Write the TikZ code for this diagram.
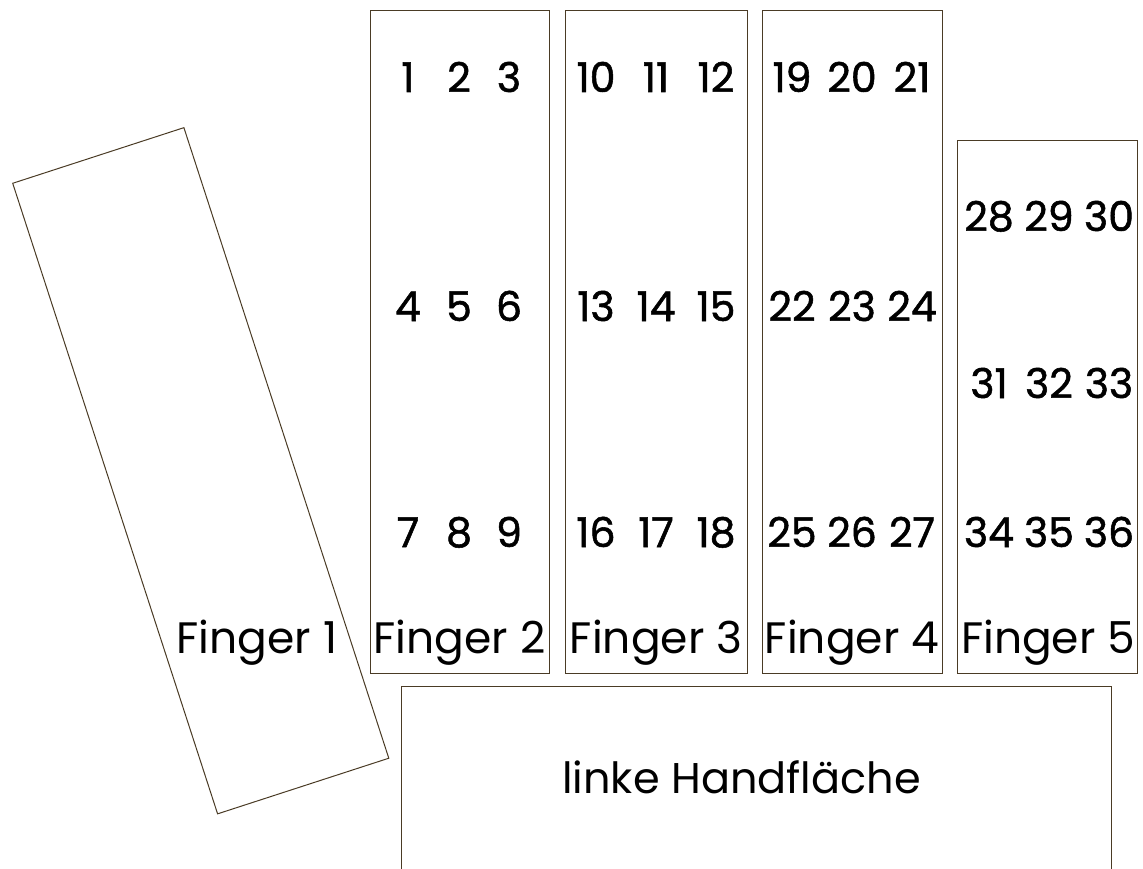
\documentclass[tikz,border=0pt]{standalone}
\usepackage{fontspec}
\setmainfont{Poppins}
\newfontfamily\numfont{Poppins}[FakeBold=1.3]
\begin{document}
\begin{tikzpicture}[x=1pt,y=-1pt,
  box/.style={draw=linec, line width=1pt, inner sep=0pt},
  num/.style={font=\numfont\fontsize{41}{43}\selectfont, anchor=base, inner sep=0pt},
  lab/.style={font=\fontsize{44}{46}\selectfont, anchor=base, inner sep=0pt}]
\definecolor{linec}{HTML}{4A3B25}
\useasboundingbox (0,0) rectangle (1143,869);
% finger 1
\node[box, minimum width=180pt, minimum height=663pt, rotate=18] (f1) at (200.75,470.75) {};
\node[lab] (l1) at (257,653) {Finger 1};
% finger boxes
\node[box, minimum width=179pt, minimum height=662pt] (f2) at (459.5,342) {};
\node[box, minimum width=182pt, minimum height=662pt] (f3) at (656,342) {};
\node[box, minimum width=180pt, minimum height=662pt] (f4) at (852,342) {};
\node[box, minimum width=180pt, minimum height=532pt] (f5) at (1047,407) {};
% palm
\coordinate (pa) at (401,880);
\coordinate (pb) at (401,686);
\coordinate (pc) at (1111,686);
\coordinate (pd) at (1111,880);
\draw[draw=linec, line width=1pt] (pa) -- (pb) -- (pc) -- (pd);
\node[lab, font=\fontsize{43}{45}\selectfont] (palm) at (741.5,793) {linke Handfläche};
% finger 2 numbers
\foreach \a/\b/\c/\y in {1/2/3/92, 4/5/6/321, 7/8/9/547}{
  \node[num] (n\a) at (408,\y) {\a};
  \node[num] (n\b) at (459,\y) {\b};
  \node[num] (n\c) at (509,\y) {\c};
}
% fingers 3-5
\foreach \a/\b/\c/\x/\y in {10/11/12/656/92, 13/14/15/656/321, 16/17/18/656/547,
  19/20/21/852/92, 22/23/24/852/321, 25/26/27/852/547,
  28/29/30/1049/231, 31/32/33/1049/398, 34/35/36/1049/547}{
  \node[num] (n\a) at (\x-60,\y) {\a};
  \node[num] (n\b) at (\x,\y) {\b};
  \node[num] (n\c) at (\x+60,\y) {\c};
}
% labels
\node[lab] (l2) at (459.5,653) {Finger 2};
\node[lab] (l3) at (656,653) {Finger 3};
\node[lab] (l4) at (852,653) {Finger 4};
\node[lab] (l5) at (1048,653) {Finger 5};
\end{tikzpicture}
\end{document}
